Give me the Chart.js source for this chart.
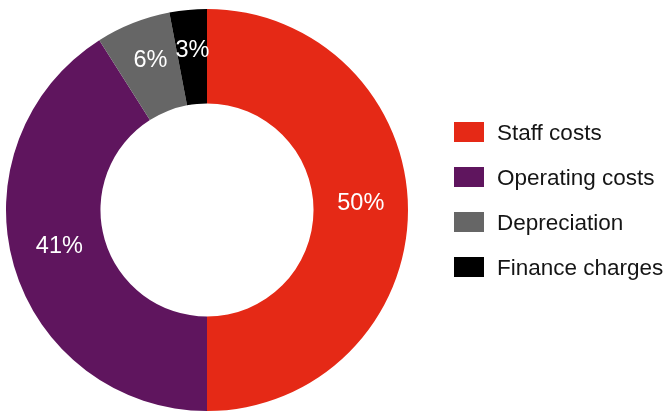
<!DOCTYPE html>
<html>
<head>
<meta charset="utf-8">
<script src="https://cdn.jsdelivr.net/npm/chart.js@4/dist/chart.umd.min.js"></script>
<style>
  html, body { margin: 0; padding: 0; background: #ffffff; }
  #wrap { position: relative; width: 668px; height: 412px; }
  #cost { position: absolute; left: 0; top: 0; }
  #legend { position: absolute; left: 454px; top: 122px; margin: 0; padding: 0; list-style: none;
            font-family: "Liberation Sans", Arial, sans-serif; font-size: 22.5px; color: #151515; }
  #legend li { height: 45px; display: flex; align-items: flex-start; white-space: nowrap; }
  #legend .sw { width: 30px; height: 20px; margin-right: 13px; flex: none; }
  #legend .tx { line-height: 20px; position: relative; top: 1px; }
</style>
</head>
<body>
<div id="wrap">
  <canvas id="cost" width="668" height="412"></canvas>
  <ul id="legend"></ul>
</div>
<script>
// Breakdown of costs, per cent of total
const categories = ['Staff costs', 'Operating costs', 'Depreciation', 'Finance charges'];
const shares = [50, 41, 6, 3];
const colours = ['#E52916', '#5F155E', '#666666', '#000000'];

// percentage labels drawn inside each segment, sitting on the ring's mid-line
const segmentLabels = {
  id: 'segmentLabels',
  afterDatasetsDraw(chart) {
    const ctx = chart.ctx;
    const meta = chart.getDatasetMeta(0);
    ctx.save();
    ctx.fillStyle = '#ffffff';
    ctx.font = '23.5px "Liberation Sans", Arial, sans-serif';
    ctx.textAlign = 'center';
    ctx.textBaseline = 'alphabetic';
    meta.data.forEach((arc, i) => {
      const p = arc.getProps(['x', 'y', 'startAngle', 'endAngle', 'innerRadius', 'outerRadius'], true);
      const mid = (p.startAngle + p.endAngle) / 2;
      const r = (p.innerRadius + p.outerRadius) / 2;
      ctx.fillText(shares[i] + '%', p.x + Math.cos(mid) * r, p.y + Math.sin(mid) * r);
    });
    ctx.restore();
  }
};

new Chart(document.getElementById('cost'), {
  type: 'doughnut',
  data: {
    labels: categories,
    datasets: [{
      data: shares,
      backgroundColor: colours,
      borderWidth: 0
    }]
  },
  options: {
    responsive: false,
    animation: false,
    cutout: '53%',
    layout: { padding: { left: 6, top: 9, right: 260, bottom: 1 } },
    plugins: {
      legend: { display: false },
      tooltip: { enabled: false }
    }
  },
  plugins: [segmentLabels]
});

// legend list built from the same arrays
const list = document.getElementById('legend');
categories.forEach((name, i) => {
  const li = document.createElement('li');
  const sw = document.createElement('span');
  sw.className = 'sw';
  sw.style.background = colours[i];
  const tx = document.createElement('span');
  tx.className = 'tx';
  tx.textContent = name;
  li.appendChild(sw);
  li.appendChild(tx);
  list.appendChild(li);
});
</script>
</body>
</html>
